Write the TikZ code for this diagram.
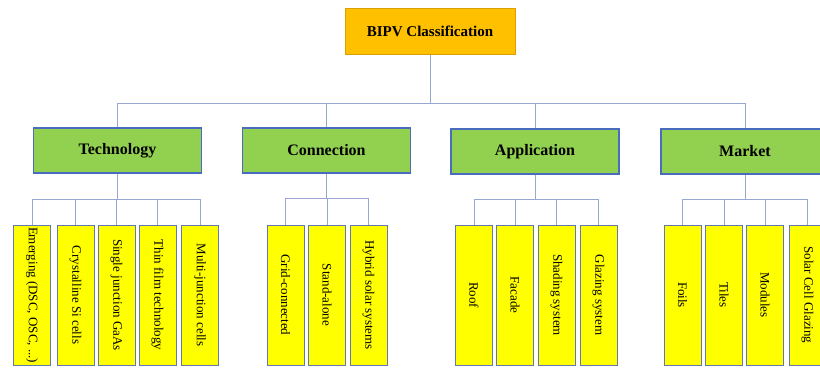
\documentclass[tikz,border=0pt]{standalone}
\usepackage{fontspec}
\setmainfont{Liberation Serif}
\usetikzlibrary{backgrounds}
\definecolor{rootfill}{HTML}{FFC000}
\definecolor{rootdraw}{HTML}{D9A000}
\definecolor{catfill}{HTML}{92D050}
\definecolor{catdraw}{HTML}{4A6CC0}
\definecolor{leaffill}{HTML}{FFFF00}
\definecolor{leafdraw}{HTML}{6477B0}
\definecolor{wire}{HTML}{9AA6D2}
\tikzset{
  rootbox/.style={draw=rootdraw, fill=rootfill, line width=1pt, minimum width=170pt, minimum height=46pt, inner sep=0pt, font=\fontsize{15}{18}\selectfont\bfseries},
  catbox/.style={draw=catdraw, fill=catfill, line width=1.1pt, minimum width=168pt, minimum height=45pt, inner sep=0pt, font=\fontsize{16}{19}\selectfont\bfseries},
  leafbox/.style={draw=leafdraw, fill=leaffill, line width=1pt, minimum width=37pt, minimum height=140pt, inner sep=0pt, font=\fontsize{13}{15}\selectfont},
  wireline/.style={draw=wire, line width=0.9pt}
}
\newcommand{\vtext}[1]{\rotatebox{-90}{#1}}
\begin{document}
\begin{tikzpicture}[x=1pt,y=-1pt]
\useasboundingbox (0,0) rectangle (820,368);
% root
\node[rootbox] (root) at (430,31) {BIPV Classification};
% categories
\node[catbox] (tech) at (117.5,150.5) {Technology};
\node[catbox] (conn) at (326.5,150.5) {Connection};
\node[catbox] (app) at (535,151.5) {Application};
\node[catbox] (mkt) at (745,151.5) {Market};
% leaves technology
\node[leafbox] (t1) at (32,295) {\vtext{\makebox[136pt][l]{Emerging (DSC, OSC, ...)}}};
\node[leafbox] (t2) at (75.5,295) {\vtext{Crystalline Si cells}};
\node[leafbox] (t3) at (116.5,295) {\vtext{Single junction GaAs}};
\node[leafbox] (t4) at (157.5,295) {\vtext{Thin film technology}};
\node[leafbox] (t5) at (200,295) {\vtext{Multi-junction cells}};
% leaves connection
\node[leafbox] (c1) at (285.5,295) {\vtext{Grid-connected}};
\node[leafbox] (c2) at (327,295) {\vtext{Stand-alone}};
\node[leafbox] (c3) at (368.5,295) {\vtext{Hybrid solar systems}};
% leaves application
\node[leafbox] (a1) at (474,295) {\vtext{Roof}};
\node[leafbox] (a2) at (515,295) {\vtext{Facade}};
\node[leafbox] (a3) at (556.5,295) {\vtext{Shading system}};
\node[leafbox] (a4) at (598.5,295) {\vtext{Glazing system}};
% leaves market
\node[leafbox] (m1) at (682.5,295) {\vtext{Foils}};
\node[leafbox] (m2) at (724,295) {\vtext{Tiles}};
\node[leafbox] (m3) at (765,295) {\vtext{Modules}};
\node[leafbox] (m4) at (807.5,295) {\vtext{Solar Cell Glazing}};
% bus coordinates
\coordinate (b0) at (430,103);
\coordinate (bt) at (117.5,199);
\coordinate (bc) at (326.5,198);
\coordinate (ba) at (535,199);
\coordinate (bm) at (745,199);
\begin{scope}[on background layer]
\fill[white] (0,0) rectangle (820,368);
\draw[wireline] (root.south) -- (b0);
\foreach \n in {tech,conn,app,mkt} \draw[wireline] (\n.north) |- (b0);
\draw[wireline] (tech.south) -- (bt);
\foreach \n in {t1,t2,t3,t4,t5} \draw[wireline] (\n.north) |- (bt);
\draw[wireline] (conn.south) -- (bc);
\foreach \n in {c1,c2,c3} \draw[wireline] (\n.north) |- (bc);
\draw[wireline] (app.south) -- (ba);
\foreach \n in {a1,a2,a3,a4} \draw[wireline] (\n.north) |- (ba);
\draw[wireline] (mkt.south) -- (bm);
\foreach \n in {m1,m2,m3,m4} \draw[wireline] (\n.north) |- (bm);
\end{scope}
\end{tikzpicture}
\end{document}
